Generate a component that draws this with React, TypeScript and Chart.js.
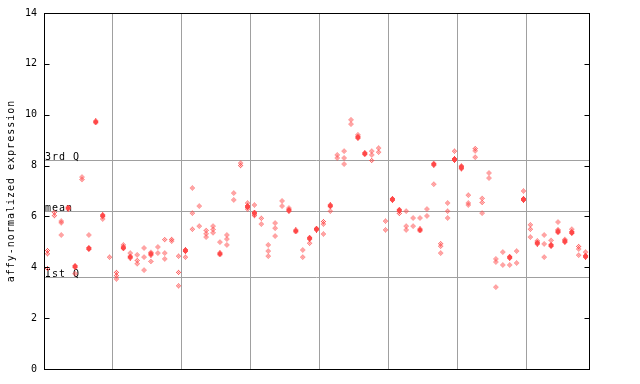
import React, { useEffect, useRef } from "react";
import { Chart, registerables } from "chart.js";

Chart.register(...registerables);

// Per-column sample values (79 columns, 8 groups)
const hollowValues: number[][] = [
  [4.66, 4.53, 3.95], [6.16, 6.03], [5.82, 5.75, 5.27], [], [3.75], [7.55, 7.45], [5.27], [], [5.9], [4.4],
  [3.8, 3.67, 3.54], [4.88], [4.56], [4.49, 4.27, 4.14], [4.76, 4.4, 3.89], [4.59, 4.23], [4.8, 4.56], [5.09, 4.56, 4.33], [5.1, 5.03], [4.44, 3.8, 3.27],
  [4.4], [7.12, 6.13, 5.5], [6.41, 5.62], [5.45, 5.32, 5.19], [5.62, 5.49, 5.36], [4.99], [5.27, 5.11, 4.88], [6.92, 6.65], [8.1, 8.0], [6.53, 6.29],
  [6.45, 6.03], [5.93, 5.7], [4.88, 4.64, 4.44], [5.74, 5.54, 5.23], [6.61, 6.41], [6.33], [], [4.68, 4.4], [4.95], [],
  [5.8, 5.7, 5.31], [6.21], [8.42, 8.3], [8.57, 8.3, 8.06], [9.8, 9.63], [9.21], [], [8.57, 8.42, 8.2], [8.69, 8.53], [5.82, 5.47],
  [], [6.12], [6.21, 5.62, 5.47], [5.94, 5.62], [5.94], [6.29, 6.02], [7.27], [4.93, 4.83, 4.56], [6.53, 6.21, 5.94], [8.57],
  [7.99, 7.87], [6.84, 6.53, 6.45], [8.67, 8.58, 8.33], [6.71, 6.55, 6.13], [7.71, 7.51], [4.33, 4.21, 3.22], [4.6, 4.09], [4.09], [4.64, 4.17], [7.0],
  [5.67, 5.5, 5.19], [5.04], [5.27, 4.92, 4.4], [5.06], [5.78, 5.48], [5.1], [5.5], [4.82, 4.72, 4.48], [4.6],
];

const filledValues: (number | null)[] = [
  null, null, null, 6.33, 4.03, null, 4.74, 9.72, 6.03, null,
  null, 4.77, 4.4, null, null, 4.52, null, null, null, null,
  4.66, null, null, null, null, 4.53, null, null, null, 6.39,
  6.13, null, null, null, null, 6.24, 5.43, null, 5.14, 5.5,
  null, 6.42, null, null, null, 9.11, 8.47, null, null, null,
  6.67, 6.24, null, null, 5.47, null, 8.05, null, null, 8.24,
  7.93, null, null, null, null, null, null, 4.39, null, 6.67,
  null, 4.95, null, 4.86, 5.4, 5.02, 5.37, null, 4.43,
];

const groupBoundaries = [9.5, 19.5, 29.5, 39.5, 49.5, 59.5, 69.5];
const refLineValues = [3.63, 6.22, 8.22];
const refLineLabels = ["Ist Q", "mean", "3rd Q"];
const yTicks = [0, 2, 4, 6, 8, 10, 12, 14];
const yTitle = "affy-normalized expression";

const RED = "#ff4848";
const MONO = "'DejaVu Sans Mono', monospace";

function makeDiamond(filled: boolean): HTMLCanvasElement {
  const c = document.createElement("canvas");
  c.width = 7;
  c.height = 7;
  const g = c.getContext("2d")!;
  g.fillStyle = RED;
  for (let i = 0; i < 7; i++) {
    for (let j = 0; j < 7; j++) {
      const dx = Math.abs(i - 3);
      const dy = Math.abs(j - 3);
      if (filled) {
        if (dx <= 2 && dx + dy <= 3) g.fillRect(i, j, 1, 1);
      } else {
        if (dx + dy <= 3 && (i + j) % 2 === 0) g.fillRect(i, j, 1, 1);
      }
    }
  }
  return c;
}

export default function App() {
  const ref = useRef<HTMLCanvasElement>(null);
  useEffect(() => {
    document.body.style.margin = "0";
    const hollowPts: { x: number; y: number }[] = [];
    hollowValues.forEach((vals, i) => vals.forEach((v) => hollowPts.push({ x: i, y: v })));
    const filledPts: { x: number; y: number }[] = [];
    filledValues.forEach((v, i) => {
      if (v !== null) filledPts.push({ x: i, y: v });
    });

    const framePlugin = {
      id: "frame",
      beforeDatasetsDraw(chart: any) {
        const { ctx, chartArea: a, scales } = chart;
        const y = scales.y;
        ctx.save();
        ctx.strokeStyle = "#a0a0a0";
        ctx.lineWidth = 1;
        refLineValues.forEach((v) => {
          const py = Math.round(y.getPixelForValue(v)) + 0.5;
          ctx.beginPath();
          ctx.moveTo(a.left, py);
          ctx.lineTo(a.right, py);
          ctx.stroke();
        });
        ctx.font = `10px ${MONO}`;
        (ctx as any).letterSpacing = "1px";
        ctx.fillStyle = "#000";
        ctx.textAlign = "left";
        ctx.textBaseline = "alphabetic";
        refLineValues.forEach((v, i) => {
          const py = Math.round(y.getPixelForValue(v));
          ctx.fillText(refLineLabels[i], a.left + 1, py);
        });
        ctx.restore();
      },
      afterDraw(chart: any) {
        const { ctx, chartArea: a, scales } = chart;
        const y = scales.y;
        ctx.save();
        ctx.strokeStyle = "#000";
        ctx.lineWidth = 1;
        const l = Math.round(a.left) + 0.5;
        const r = Math.round(a.right) + 0.5;
        const t = Math.round(a.top) + 0.5;
        const b = Math.round(a.bottom) + 0.5;
        ctx.strokeRect(l, t, r - l, b - t);
        yTicks.forEach((v) => {
          const py = Math.round(y.getPixelForValue(v)) + 0.5;
          ctx.beginPath();
          ctx.moveTo(l, py);
          ctx.lineTo(l + 5, py);
          ctx.moveTo(r, py);
          ctx.lineTo(r - 5, py);
          ctx.stroke();
        });
        // rotated y-axis title
        ctx.translate(11, (a.top + a.bottom) / 2);
        ctx.rotate(-Math.PI / 2);
        ctx.font = `10px ${MONO}`;
        (ctx as any).letterSpacing = "1px";
        ctx.fillStyle = "#000";
        ctx.textAlign = "center";
        ctx.textBaseline = "middle";
        ctx.fillText(yTitle, 0, 0);
        ctx.restore();
      },
    };

    const chart = new Chart(ref.current!, {
      type: "scatter",
      data: {
        datasets: [
          {
            data: filledPts,
            pointStyle: makeDiamond(true) as any,
            pointRadius: 3,
          },
          {
            data: hollowPts,
            pointStyle: makeDiamond(false) as any,
            pointRadius: 3,
          },
        ],
      },
      options: {
        animation: false,
        responsive: false,
        devicePixelRatio: 1,
        layout: { padding: { left: 0, top: 13, right: 51, bottom: 15 } },
        plugins: { legend: { display: false }, tooltip: { enabled: false } },
        scales: {
          x: {
            type: "linear",
            min: -0.5,
            max: 78.5,
            afterBuildTicks: (s: any) => {
              s.ticks = groupBoundaries.map((v) => ({ value: v }));
            },
            afterFit: (s: any) => {
              s.height = 0;
            },
            ticks: { display: false },
            grid: { color: "#a0a0a0", drawTicks: false, lineWidth: 1 },
            border: { display: false },
          },
          y: {
            min: 0,
            max: 14,
            afterBuildTicks: (s: any) => {
              s.ticks = yTicks.map((v) => ({ value: v }));
            },
            afterFit: (s: any) => {
              s.width = 44;
            },
            ticks: {
              padding: 7,
              color: "#000",
              font: { family: MONO, size: 10 },
            },
            grid: { display: false, drawTicks: false },
            border: { display: false },
            title: { display: false },
          },
        },
      },
      plugins: [framePlugin],
    });
    return () => chart.destroy();
  }, []);
  return (
    <div style={{ position: "absolute", left: 0, top: 0, width: 640, height: 384, background: "#fff" }}>
      <canvas ref={ref} width={640} height={384} style={{ width: 640, height: 384 }} />
    </div>
  );
}
